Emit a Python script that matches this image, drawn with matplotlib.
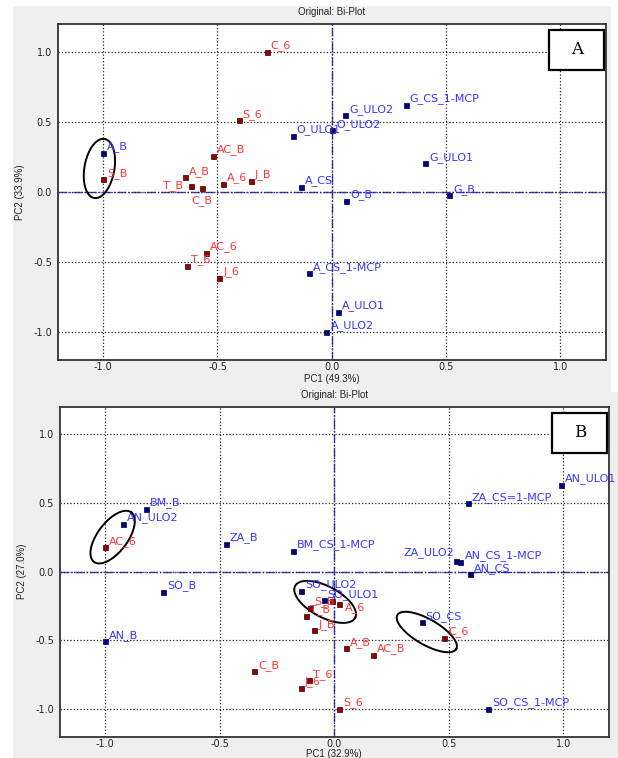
import numpy as np
import matplotlib.pyplot as plt
from matplotlib.patches import Rectangle

# ---------------- panel A (PC1 49.3% / PC2 33.9%) ----------------
a_names = ['C_6', 'S_6', 'AC_B', 'S_B', 'A_B', 'T_B', 'C_B', 'A_6', 'J_B', 'AC_6', 'T_6', 'J_6',
           'G_CS_1-MCP', 'G_ULO2', 'O_ULO2', 'O_ULO1', 'A_B', 'A_CS', 'G_ULO1', 'G_B', 'O_B',
           'A_CS_1-MCP', 'A_ULO1', 'A_ULO2']
a_pc1 = [-0.284, -0.407, -0.521, -1.0, -0.642, -0.616, -0.568, -0.476, -0.355, -0.552, -0.632, -0.492,
         0.324, 0.059, 0.003, -0.171, -1.0, -0.136, 0.41, 0.513, 0.063,
         -0.099, 0.029, -0.023]
a_pc2 = [1.0, 0.511, 0.255, 0.089, 0.103, 0.038, 0.026, 0.057, 0.079, -0.436, -0.531, -0.616,
         0.621, 0.547, 0.44, 0.398, 0.279, 0.036, 0.203, -0.024, -0.064,
         -0.583, -0.859, -1.0]
a_group = ['r'] * 12 + ['b'] * 12

# ---------------- panel B (PC1 32.9% / PC2 27.0%) ----------------
b_names = ['AC_6', 'S_B', 'T_B', 'A_6', '', 'J_B', 'A_B', 'AC_B', 'C_B', 'T_6', 'J_6', 'S_6', 'C_6',
           'BM_B', 'AN_ULO2', 'ZA_B', 'SO_B', 'AN_B', 'BM_CS_1-MCP', 'SO_ULO2', 'SO_ULO1', 'SO_CS',
           'ZA_CS=1-MCP', 'AN_ULO1', 'ZA_ULO2', 'AN_CS_1-MCP', 'AN_CS', 'SO_CS_1-MCP']
b_pc1 = [-1.0, -0.104, -0.124, 0.02, -0.01, -0.088, 0.049, 0.168, -0.35, -0.111, -0.146, 0.02, 0.48,
         -0.823, -0.922, -0.474, -0.746, -1.0, -0.18, -0.145, -0.047, 0.381,
         0.583, 0.988, 0.532, 0.551, 0.592, 0.673]
b_pc2 = [0.175, -0.264, -0.322, -0.238, -0.214, -0.426, -0.558, -0.606, -0.724, -0.791, -0.847, -0.999, -0.481,
         0.455, 0.349, 0.2, -0.149, -0.508, 0.15, -0.142, -0.209, -0.37,
         0.496, 0.631, 0.077, 0.07, -0.019, -0.999]
b_group = ['r'] * 13 + ['b'] * 15

# label placement exceptions: name -> (dx px, dy px, ha)
a_label_fix = {'T_B': (-8, 1, 'right'), 'C_B': (0, -12, 'center')}
b_label_fix = {'ZA_ULO2': (-2, 8, 'right'), 'A_6': (6, -3, 'left')}

# groups circled in each panel: (pc1, pc2, semi-major px, semi-minor px, angle deg)
a_rings = [(-1.017, 0.166, 30, 15, 80)]
b_rings = [(-0.968, 0.25, 31, 15, 53), (-0.04, -0.221, 34, 15.5, -28), (0.404, -0.44, 34, 12.7, -30)]

W, H = 618, 758
fig = plt.figure(figsize=(W / 100, H / 100), dpi=100)
fig.patch.set_facecolor('white')

# grey screenshot backgrounds
fig.add_artist(Rectangle((13 / W, 1 - 392 / H), 598 / W, 386 / H, transform=fig.transFigure,
                         facecolor='#efefef', edgecolor='none', zorder=0))
fig.add_artist(Rectangle((13 / W, 0), 605 / W, 1 - 392 / H, transform=fig.transFigure,
                         facecolor='#efefef', edgecolor='none', zorder=0))

label_font = 'Liberation Sans'
red_mark, blue_mark = '#9a0000', '#000090'
red_txt, blue_txt = '#ff3535', '#3535ff'


def draw_ring(ax, cx, cy, a_px, b_px, ang, upx, upy):
    t = np.linspace(0, 2 * np.pi, 200)
    th = np.radians(ang)
    dx = a_px * np.cos(t) * np.cos(th) - b_px * np.sin(t) * np.sin(th)
    dy = a_px * np.cos(t) * np.sin(th) + b_px * np.sin(t) * np.cos(th)
    ax.plot(cx + dx / upx, cy + dy / upy, color='black', lw=1.4, zorder=4)


def biplot(rect_px, names, xs, ys, groups, fixes, rings, xlab, ylab, tag, xlabpad=1):
    l, t, r, b = rect_px
    ax = fig.add_axes([l / W, 1 - b / H, (r - l) / W, (b - t) / H])
    ax.set_xlim(-1.2, 1.2)
    ax.set_ylim(-1.2, 1.2)
    ticks = [-1.0, -0.5, 0.0, 0.5, 1.0]
    ax.set_xticks(ticks)
    ax.set_yticks(ticks)
    ax.set_xticklabels(['%.1f' % v for v in ticks])
    ax.set_yticklabels(['%.1f' % v for v in ticks])
    ax.tick_params(length=0, labelsize=7, labelcolor='#222222', pad=2)
    ax.tick_params(axis='y', pad=4)
    ax.grid(True, ls=':', color='#222222', lw=0.9)
    ax.axhline(0, color='#3b3bd6', ls='-.', lw=1.0, zorder=1)
    ax.axvline(0, color='#3b3bd6', ls='-.', lw=1.0, zorder=1)
    for s in ax.spines.values():
        s.set_color('#333333')
        s.set_linewidth(1.3)
    ax.set_title('Original: Bi-Plot', fontsize=7, family=label_font, color='#222222', pad=6)
    ax.set_xlabel(xlab, fontsize=7, family=label_font, color='#222222', labelpad=xlabpad)
    ax.set_ylabel(ylab, fontsize=7, family=label_font, color='#222222', labelpad=6)

    for n, x, y, g in zip(names, xs, ys, groups):
        mc = red_mark if g == 'r' else blue_mark
        tc = red_txt if g == 'r' else blue_txt
        ax.plot(x, y, marker='s', ms=3.6, mfc=mc, mec='#200000' if g == 'r' else '#000020',
                mew=0.5, ls='none', zorder=5)
        dx, dy, ha = fixes.get(n, (4, 6, 'left'))
        if n:
            ax.annotate(n, (x, y), xytext=(dx, dy), textcoords='offset pixels', ha=ha, va='center',
                        fontsize=8, color=tc, zorder=6)

    upx = (r - l) / 2.4
    upy = (b - t) / 2.4
    for cx, cy, ap, bp, ang in rings:
        draw_ring(ax, cx, cy, ap, bp, ang, upx, upy)

    # panel tag box in the upper right corner
    bw, bh = 55 / (r - l), 40 / (b - t)
    ax.add_patch(Rectangle((1 - bw - 0.003, 1 - bh - 6 / (b - t)), bw, bh, transform=ax.transAxes,
                           facecolor='white', edgecolor='black', lw=1.6, zorder=7))
    ax.text(1 - bw / 2 - 0.003, 1 - bh / 2 - 6 / (b - t), tag, transform=ax.transAxes, ha='center',
            va='center', fontsize=12, family='DejaVu Serif', zorder=8)
    return ax


biplot((57.6, 23.7, 605.8, 359.7), a_names, a_pc1, a_pc2, a_group, a_label_fix, a_rings,
       'PC1 (49.3%)', 'PC2 (33.9%)', 'A')
biplot((59.5, 406.5, 609.1, 736.5), b_names, b_pc1, b_pc2, b_group, b_label_fix, b_rings,
       'PC1 (32.9%)', 'PC2 (27.0%)', 'B', xlabpad=0)

fig.savefig('out.png', dpi=100)
